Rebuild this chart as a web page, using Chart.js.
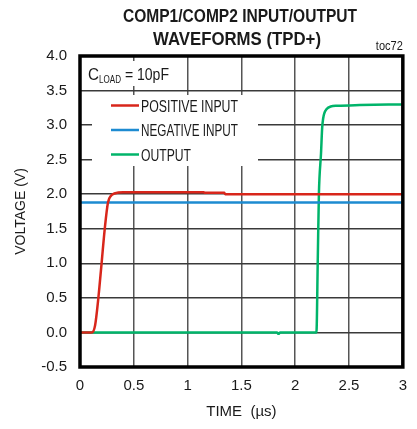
<!DOCTYPE html>
<html>
<head>
<meta charset="utf-8">
<script src="https://cdn.jsdelivr.net/npm/chart.js@4.4.1/dist/chart.umd.min.js"></script>
<style>
  html, body { margin: 0; padding: 0; background: #fff; }
  #wrap { width: 417px; height: 429px; }
</style>
</head>
<body>
<div id="wrap"><canvas id="chart" width="417" height="429"></canvas></div>
<script>
// tick labels
const xTicks = [0, 0.5, 1, 1.5, 2, 2.5, 3];
const yTicks = [-0.5, 0, 0.5, 1, 1.5, 2, 2.5, 3, 3.5, 4];

// series (time in us, voltage in V)
const posTime = [0, 0.11, 0.14, 0.17, 0.20, 0.23, 0.26, 0.29, 0.32, 0.40, 1.15, 1.16, 1.34, 1.35, 3.0];
const posVolt = [0, 0, 0.10, 0.49, 0.99, 1.50, 1.88, 1.98, 2.01, 2.03, 2.03, 2.02, 2.02, 2.00, 2.00];

const negTime = [0, 3.0];
const negVolt = [1.88, 1.88];

const outTime = [0, 1.83, 1.845, 1.86, 2.197, 2.21, 2.22, 2.24, 2.25, 2.26, 2.27, 2.29, 2.33, 2.39, 2.60, 3.0];
const outVolt = [0, 0, -0.02, 0, 0, 1.10, 2.00, 2.60, 2.95, 3.10, 3.17, 3.23, 3.27, 3.28, 3.29, 3.30];

const seriesNames = ['POSITIVE INPUT', 'NEGATIVE INPUT', 'OUTPUT'];
const seriesColors = ['#d8261b', '#1d8bd1', '#00b46a'];

const NARROW = '"Liberation Sans Narrow", "Arial Narrow", "Liberation Sans", Arial, sans-serif';

function toPoints(xs, ys) {
    return xs.map((x, i) => ({ x: x, y: ys[i] }));
}

// draws text squeezed horizontally to a given width if needed
function fitText(ctx, text, x, y, maxW, align) {
    const w = ctx.measureText(text).width;
    const s = w > maxW ? maxW / w : 1;
    ctx.save();
    ctx.translate(x, y);
    ctx.scale(s, 1);
    ctx.textAlign = align || 'left';
    ctx.fillText(text, 0, 0);
    ctx.restore();
    return w * s;
}

// titulo, caixas brancas, legenda e moldura
const decor = {
    id: 'decor',
    beforeDatasetsDraw(chart) {
        const ctx = chart.ctx;
        const a = chart.chartArea;
        ctx.save();
        ctx.fillStyle = '#fff';
        // C_LOAD box
        ctx.fillRect(a.left + 3, a.top + 5, 87, 25);
        // legend box
        ctx.fillRect(a.left + 12, a.top + 39, 166, 71);
        ctx.restore();
    },
    afterDatasetsDraw(chart) {
        const ctx = chart.ctx;
        const a = chart.chartArea;
        ctx.save();
        // frame
        ctx.strokeStyle = '#000';
        ctx.lineWidth = 3.5;
        ctx.strokeRect(a.left, a.top, a.right - a.left, a.bottom - a.top);

        ctx.fillStyle = '#1a1a1a';
        ctx.textBaseline = 'alphabetic';

        // title
        ctx.font = 'bold 19px ' + NARROW;
        fitText(ctx, 'COMP1/COMP2 INPUT/OUTPUT', 240, 22, 234, 'center');
        fitText(ctx, 'WAVEFORMS (TPD+)', 237, 45, 168, 'center');

        // toc72
        ctx.font = '12px ' + NARROW;
        fitText(ctx, 'toc72', a.right, 50, 27, 'right');

        // C_LOAD
        let x = a.left + 8;
        ctx.font = '17px ' + NARROW;
        x += fitText(ctx, 'C', x, 80, 11);
        ctx.font = '11px ' + NARROW;
        x += fitText(ctx, 'LOAD', x, 83, 22);
        ctx.font = '17px ' + NARROW;
        fitText(ctx, ' = 10pF', x, 80, 48);

        // legend
        ctx.font = '17px ' + NARROW;
        seriesNames.forEach((name, i) => {
            const y = a.top + 49.5 + i * 24.5;
            ctx.strokeStyle = seriesColors[i];
            ctx.lineWidth = 2.5;
            ctx.beginPath();
            ctx.moveTo(a.left + 31, y);
            ctx.lineTo(a.left + 59, y);
            ctx.stroke();
            fitText(ctx, name, a.left + 61, y + 6, name.length > 10 ? 97 : 50);
        });
        ctx.restore();
    }
};

const ctx = document.getElementById('chart').getContext('2d');
new Chart(ctx, {
    type: 'line',
    data: {
        datasets: [
            { label: seriesNames[0], data: toPoints(posTime, posVolt), borderColor: seriesColors[0] },
            { label: seriesNames[1], data: toPoints(negTime, negVolt), borderColor: seriesColors[1] },
            { label: seriesNames[2], data: toPoints(outTime, outVolt), borderColor: seriesColors[2] }
        ]
    },
    options: {
        responsive: false,
        animation: false,
        layout: { padding: { top: 56, right: 13, left: 0, bottom: 0 } },
        elements: {
            point: { radius: 0 },
            line: { borderWidth: 2.5, cubicInterpolationMode: 'monotone', fill: false }
        },
        plugins: {
            legend: { display: false },
            tooltip: { enabled: false },
            title: { display: false }
        },
        scales: {
            x: {
                type: 'linear',
                min: 0,
                max: 3,
                afterBuildTicks: s => { s.ticks = xTicks.map(v => ({ value: v })); },
                afterFit: s => { s.height = 62; },
                grid: { color: '#555', lineWidth: 1.5, drawTicks: false },
                border: { display: false },
                ticks: {
                    padding: 10,
                    color: '#1a1a1a',
                    font: { family: NARROW, size: 15 },
                    callback: v => String(v)
                },
                title: {
                    display: true,
                    text: 'TIME  (µs)',
                    color: '#1a1a1a',
                    font: { family: NARROW, size: 15 },
                    padding: { top: 0, bottom: 8 }
                }
            },
            y: {
                type: 'linear',
                min: -0.5,
                max: 4,
                afterBuildTicks: s => { s.ticks = yTicks.map(v => ({ value: v })); },
                afterFit: s => { s.width = 80; },
                grid: { color: '#3a3a3a', lineWidth: 1.5, drawTicks: false },
                border: { display: false },
                ticks: {
                    padding: 13,
                    color: '#1a1a1a',
                    font: { family: NARROW, size: 15 },
                    callback: v => v.toFixed(1)
                },
                title: {
                    display: true,
                    text: 'VOLTAGE (V)',
                    color: '#1a1a1a',
                    font: { family: NARROW, size: 14 },
                    padding: { top: 13, bottom: 0 }
                }
            }
        }
    },
    plugins: [decor]
});
</script>
</body>
</html>
